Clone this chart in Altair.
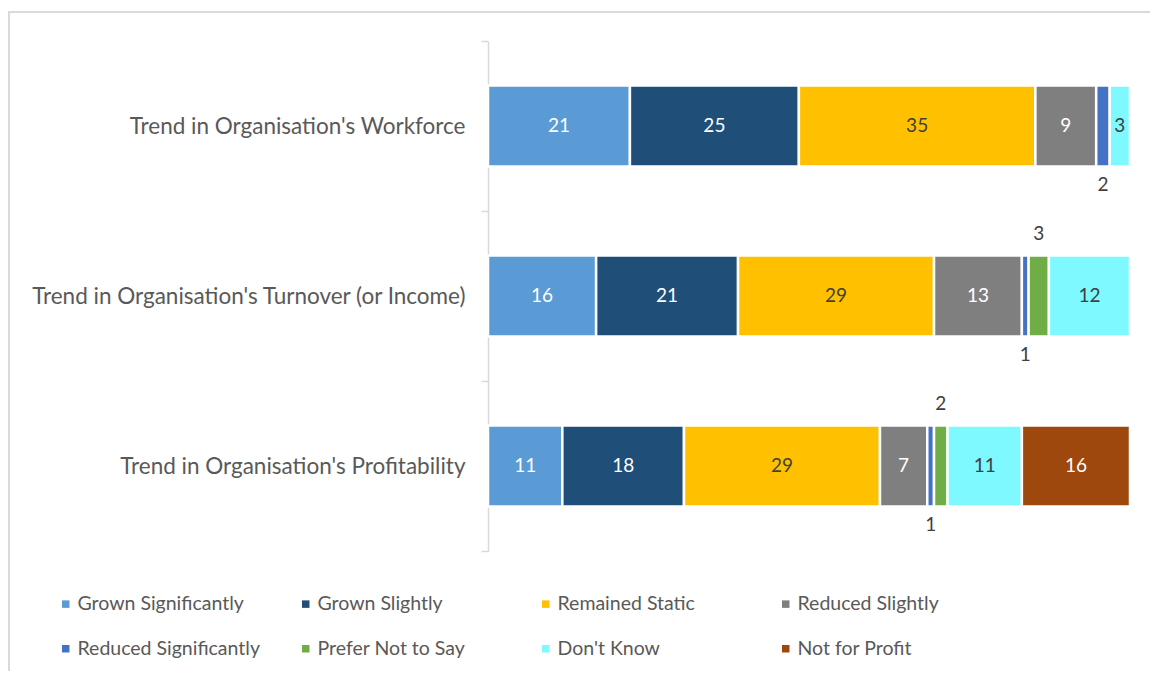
import altair as alt
import pandas as pd

categories = ["Trend in Organisation's Workforce",
              "Trend in Organisation's Turnover (or Income)",
              "Trend in Organisation's Profitability"]
responses = ["Grown Significantly", "Grown Slightly", "Remained Static", "Reduced Slightly",
             "Reduced Significantly", "Prefer Not to Say", "Don't Know", "Not for Profit"]
colors = ["#5B9BD5", "#1F4E79", "#FFC000", "#7F7F7F", "#4472C4", "#70AD47", "#7DF9FF", "#9E480E"]
label_colors = ["#FFFFFF", "#FFFFFF", "#404040", "#FFFFFF", "#404040", "#404040", "#404040", "#FFFFFF"]

# values per category, in response order (None = not present)
workforce = [21, 25, 35, 9, 2, None, 3, None]
turnover = [16, 21, 29, 13, 1, 3, 12, None]
profitability = [11, 18, 29, 7, 1, 2, 11, 16]
# label placement per category
workforce_pos = ["in", "in", "in", "in", "below", "in", "in", "in"]
turnover_pos = ["in", "in", "in", "in", "below", "above", "in", "in"]
profitability_pos = ["in", "in", "in", "in", "below", "above", "in", "in"]

rows = []
for cat, vals, poss in zip(categories, [workforce, turnover, profitability],
                           [workforce_pos, turnover_pos, profitability_pos]):
    for i, (r, v, p) in enumerate(zip(responses, vals, poss)):
        if v is None:
            continue
        rows.append({"cat": cat, "resp": r, "value": v, "order": i, "pos": p,
                     "lc": label_colors[i] if p == "in" else "#404040"})
df = pd.DataFrame(rows)

FONT = "Lato"

base = alt.Chart(df).transform_stack(
    stack="value", as_=["x0", "x1"], groupby=["cat"],
    sort=[alt.SortField("order")], offset="normalize"
).transform_calculate(mid="(datum.x0 + datum.x1) / 2")

yenc = alt.Y("cat:N", sort=categories, title=None,
             scale=alt.Scale(paddingInner=0, paddingOuter=0),
             axis=alt.Axis(tickBand="extent", labelFont=FONT, labelFontSize=22.5,
                           labelColor="#595959", labelPadding=16, labelLimit=600,
                           domainColor="#D9D9D9", domainWidth=1.5, tickColor="#D9D9D9",
                           tickWidth=1.5, tickSize=7, grid=False))
xscale = alt.Scale(domain=[0, 1])

bars = base.mark_bar(stroke="white", strokeWidth=2.5, height=81).encode(
    y=yenc,
    x=alt.X("x0:Q", scale=xscale, axis=None),
    x2="x1:Q",
    color=alt.Color("resp:N", scale=alt.Scale(domain=responses, range=colors),
                    legend=alt.Legend(title=None, orient="none", legendX=-432, legendY=553,
                                      direction="horizontal",
                                      columns=4, gridAlign="all", columnPadding=36,
                                      rowPadding=24, symbolType="square", symbolSize=56,
                                      symbolStrokeWidth=0, labelFont=FONT, labelFontSize=19.5,
                                      labelColor="#595959", labelOffset=2, labelLimit=400)),
    order=alt.Order("order:Q"),
)

def text_layer(pos, dy):
    return base.transform_filter(alt.datum.pos == pos).mark_text(
        font=FONT, fontSize=19, dy=dy, baseline="middle").encode(
        y=alt.Y("cat:N", sort=categories),
        x=alt.X("mid:Q", scale=xscale),
        text="value:Q",
        color=alt.Color("lc:N", scale=None),
    )

frame_df = pd.DataFrame({"a": [0]})
frame_top = alt.Chart(frame_df).mark_rule(color="#D9D9D9", strokeWidth=2).encode(
    x=alt.value(-480), x2=alt.value(662), y=alt.value(-29))
frame_left = alt.Chart(frame_df).mark_rule(color="#D9D9D9", strokeWidth=2).encode(
    x=alt.value(-479), y=alt.value(-30), y2=alt.value(640))

chart = alt.layer(
    frame_top, frame_left, bars,
    text_layer("in", 0), text_layer("below", 59), text_layer("above", -62)
).properties(
    width=642, height=510,
    autosize=alt.AutoSizeParams(type="none"),
    padding={"left": 480, "top": 33, "right": 20, "bottom": 120},
).configure_view(stroke=None)

chart.save("out.html", embed_options={"renderer": "svg", "actions": False})
